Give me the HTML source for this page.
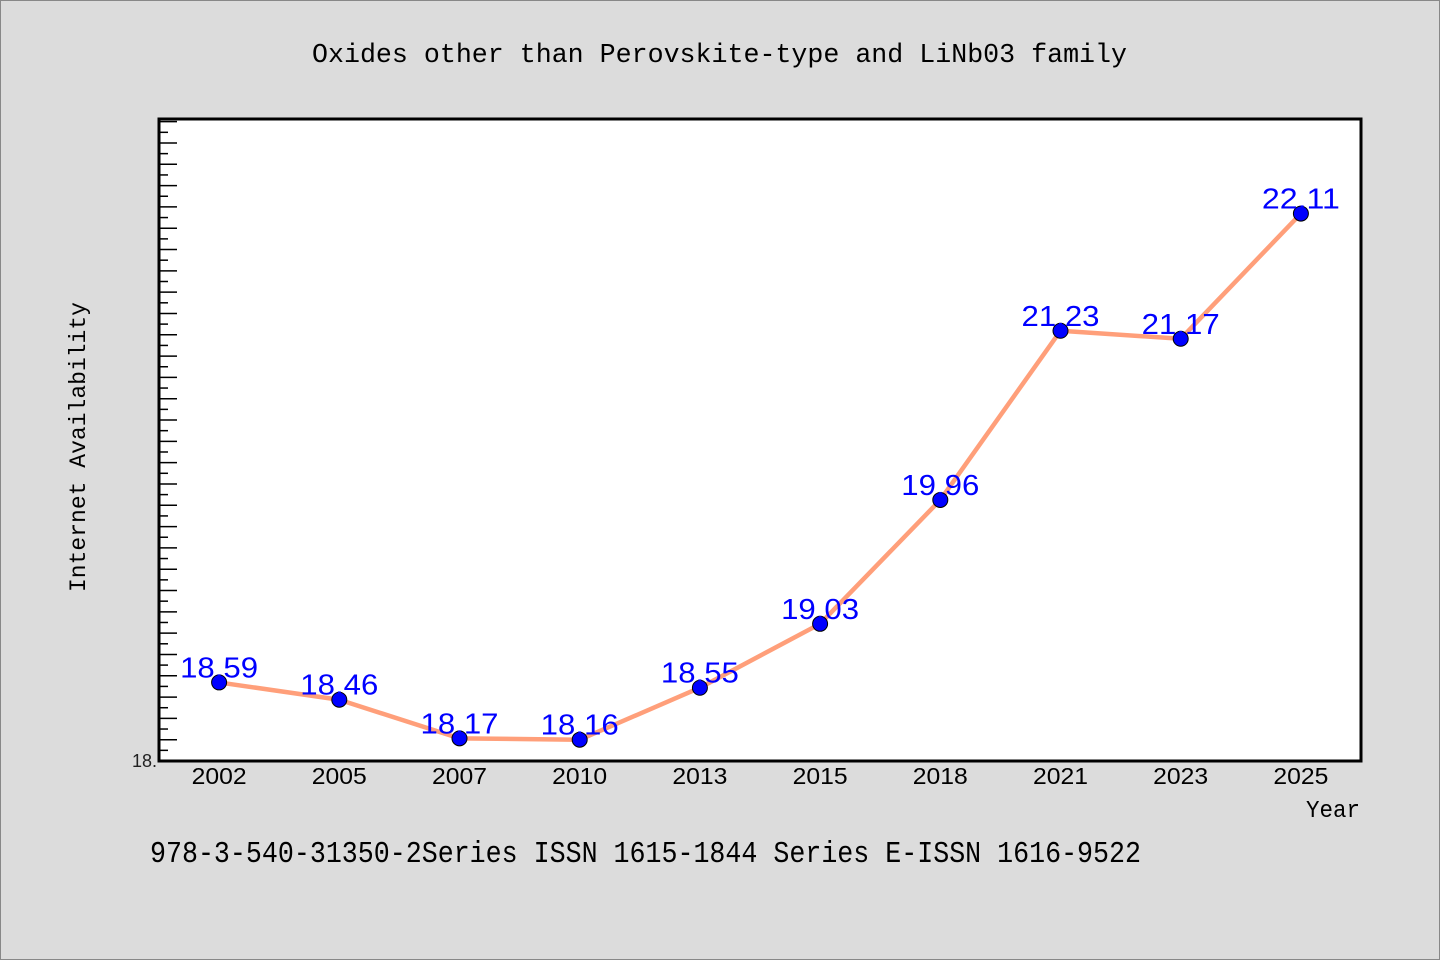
<!DOCTYPE html>
<html><head><meta charset="utf-8"><style>
body{margin:0;background:#dcdcdc;}
svg{display:block}
</style></head><body>
<svg width="1440" height="960" xmlns="http://www.w3.org/2000/svg">
<rect x="0.5" y="0.5" width="1439" height="959" fill="#dcdcdc" stroke="#888"/>
<text x="312" y="62" textLength="815" lengthAdjust="spacingAndGlyphs" font-family="Liberation Mono, monospace" font-size="27">Oxides other than Perovskite-type and LiNb03 family</text>
<rect x="159" y="119" width="1202" height="642" fill="#fff" stroke="#000" stroke-width="3"/>
<g id="ticks"></g>
<text x="157" y="767" text-anchor="end" font-family="Liberation Sans, sans-serif" font-size="18" fill="#222">18.</text>
<text transform="translate(85,302) rotate(-90)" x="-290" y="0" textLength="290" lengthAdjust="spacingAndGlyphs" font-family="Liberation Mono, monospace" font-size="23">Internet Availability</text>
<text x="1306" y="817" textLength="54" lengthAdjust="spacingAndGlyphs" font-family="Liberation Mono, monospace" font-size="24">Year</text>
<text x="150" y="862" textLength="991" lengthAdjust="spacingAndGlyphs" font-family="Liberation Mono, monospace" font-size="31">978-3-540-31350-2Series ISSN 1615-1844 Series E-ISSN 1616-9522</text>
<g id="series"></g>
</svg>
<script>
const categories=["2002","2005","2007","2010","2013","2015","2018","2021","2023","2025"];
const values=[18.59,18.46,18.17,18.16,18.55,19.03,19.96,21.23,21.17,22.11];
const labels=["18.59","18.46","18.17","18.16","18.55","19.03","19.96","21.23","21.17","22.11"];
const yMin=18, yMax=22.82;
const L=159,R=1361,T=119,B=761;
const NS="http://www.w3.org/2000/svg";
const bw=(R-L)/categories.length;
const x=i=>L+bw*(i+0.5);
const y=v=>B-(v-yMin)/(yMax-yMin)*(B-T);
function mk(t,a,p){const e=document.createElementNS(NS,t);for(const k in a)e.setAttribute(k,a[k]);p.appendChild(e);return e;}
const tg=document.getElementById('ticks');
for(let k=1;;k++){const v=yMin+k*0.08;if(v>yMax)break;const yy=y(v);
 const l=mk('line',{x1:L,x2:L+(k%2?9:18),y1:yy,y2:yy,stroke:'#000','stroke-width':1.5},tg);
 
 }
categories.forEach((c,i)=>{const t=mk('text',{x:x(i),y:784,'text-anchor':'middle',textLength:55,lengthAdjust:'spacingAndGlyphs','font-family':'Liberation Sans, sans-serif','font-size':23},tg);t.textContent=c;
 
 });
const sg=document.getElementById('series');
const pl=mk('polyline',{points:values.map((v,i)=>x(i)+','+y(v)).join(' '),fill:'none',stroke:'#ff9f7a','stroke-width':4.5,'stroke-linejoin':'round'},sg);


values.forEach((v,i)=>{
 const c=mk('circle',{cx:x(i),cy:y(v),r:7.5,fill:'#0000ff',stroke:'#000','stroke-width':1},sg);
 
 
 const t=mk('text',{x:x(i),y:y(v)-5,'text-anchor':'middle',textLength:78,lengthAdjust:'spacingAndGlyphs','font-family':'Liberation Sans, sans-serif','font-size':29,fill:'#0000ff'},sg);
 t.textContent=labels[i];
 
 
});
</script>
</body></html>
